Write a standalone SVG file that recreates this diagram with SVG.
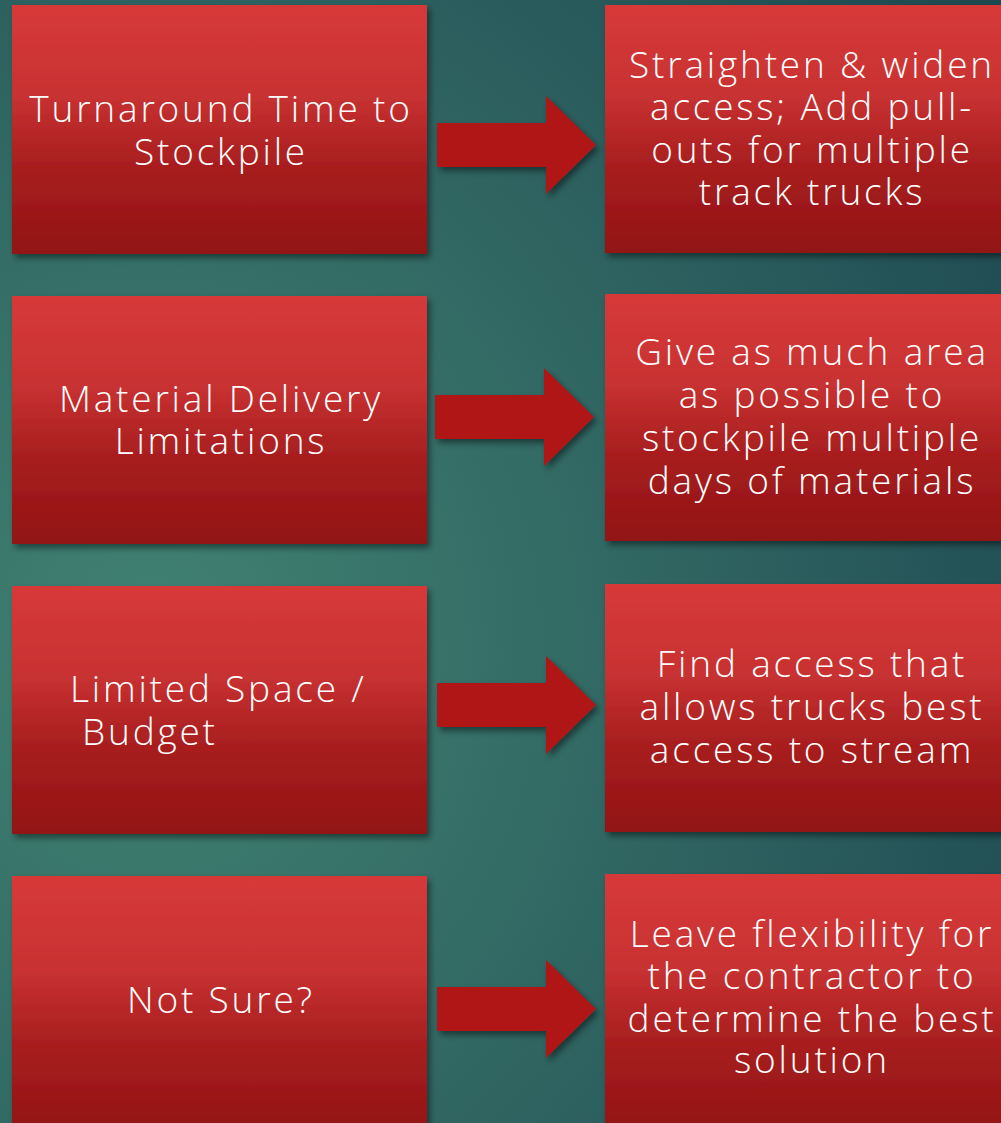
<svg xmlns="http://www.w3.org/2000/svg" width="1001" height="1123" viewBox="0 0 1001 1123">
<defs>
<radialGradient id="bg" cx="0.15" cy="0.58" r="1.0" fx="0.15" fy="0.58">
<stop offset="0" stop-color="#418272"/>
<stop offset="0.45" stop-color="#326964"/>
<stop offset="1" stop-color="#1E4951"/>
</radialGradient>
<linearGradient id="red" x1="0" y1="0" x2="0" y2="1">
<stop offset="0" stop-color="#D73939"/>
<stop offset="0.35" stop-color="#C93232"/>
<stop offset="0.65" stop-color="#A81E1F"/>
<stop offset="1" stop-color="#921314"/>
</linearGradient>
<filter id="sh" x="-10%" y="-10%" width="125%" height="125%">
<feDropShadow dx="3" dy="4" stdDeviation="3" flood-color="#000" flood-opacity="0.45"/>
</filter>
<path id="arrowShape" d="M0 -22 H109 V-49 L159 0 L109 49 V22 H0 Z"/>
</defs>
<style>
.box{fill:url(#red);filter:url(#sh)}
.arrow{fill:#B01515;filter:url(#sh)}
text{font-family:"Open Sans","Lato","Liberation Sans",sans-serif;font-weight:300;font-size:37px;letter-spacing:2.8px;fill:#FFFFFF}
.c{text-anchor:middle}
</style>
<rect x="0" y="0" width="1001" height="1123" fill="url(#bg)"/>

<g id="connectors">
<use href="#arrowShape" class="arrow" transform="translate(437,145)"/>
<use href="#arrowShape" class="arrow" transform="translate(435,417)"/>
<use href="#arrowShape" class="arrow" transform="translate(437,705)"/>
<use href="#arrowShape" class="arrow" transform="translate(437,1009)"/>
</g>

<g id="n1">
<rect class="box" x="12" y="5" width="415" height="249"/>
<text class="c" x="221" y="122">Turnaround Time to</text>
<text class="c" x="221" y="165">Stockpile</text>
</g>
<g id="n2">
<rect class="box" x="605" y="5" width="412" height="248"/>
<text class="c" x="812" y="78">Straighten &amp; widen</text>
<text class="c" x="812" y="120">access; Add pull-</text>
<text class="c" x="812" y="163">outs for multiple</text>
<text class="c" x="812" y="205">track trucks</text>
</g>

<g id="n3">
<rect class="box" x="12" y="296" width="415" height="248"/>
<text class="c" x="221" y="412">Material Delivery</text>
<text class="c" x="221" y="454">Limitations</text>
</g>
<g id="n4">
<rect class="box" x="605" y="294" width="412" height="247"/>
<text class="c" x="812" y="365">Give as much area</text>
<text class="c" x="812" y="408">as possible to</text>
<text class="c" x="812" y="451">stockpile multiple</text>
<text class="c" x="812" y="494">days of materials</text>
</g>

<g id="n5">
<rect class="box" x="12" y="586" width="415" height="248"/>
<text x="70" y="702">Limited Space /</text>
<text x="82" y="745">Budget</text>
</g>
<g id="n6">
<rect class="box" x="605" y="584" width="412" height="248"/>
<text class="c" x="812" y="677">Find access that</text>
<text class="c" x="812" y="720">allows trucks best</text>
<text class="c" x="812" y="763">access to stream</text>
</g>

<g id="n7">
<rect class="box" x="12" y="876" width="415" height="260"/>
<text class="c" x="221" y="1013">Not Sure?</text>
</g>
<g id="n8">
<rect class="box" x="605" y="874" width="412" height="260"/>
<text class="c" x="812" y="947">Leave flexibility for</text>
<text class="c" x="812" y="989">the contractor to</text>
<text class="c" x="812" y="1032">determine the best</text>
<text class="c" x="812" y="1073">solution</text>
</g>
</svg>
